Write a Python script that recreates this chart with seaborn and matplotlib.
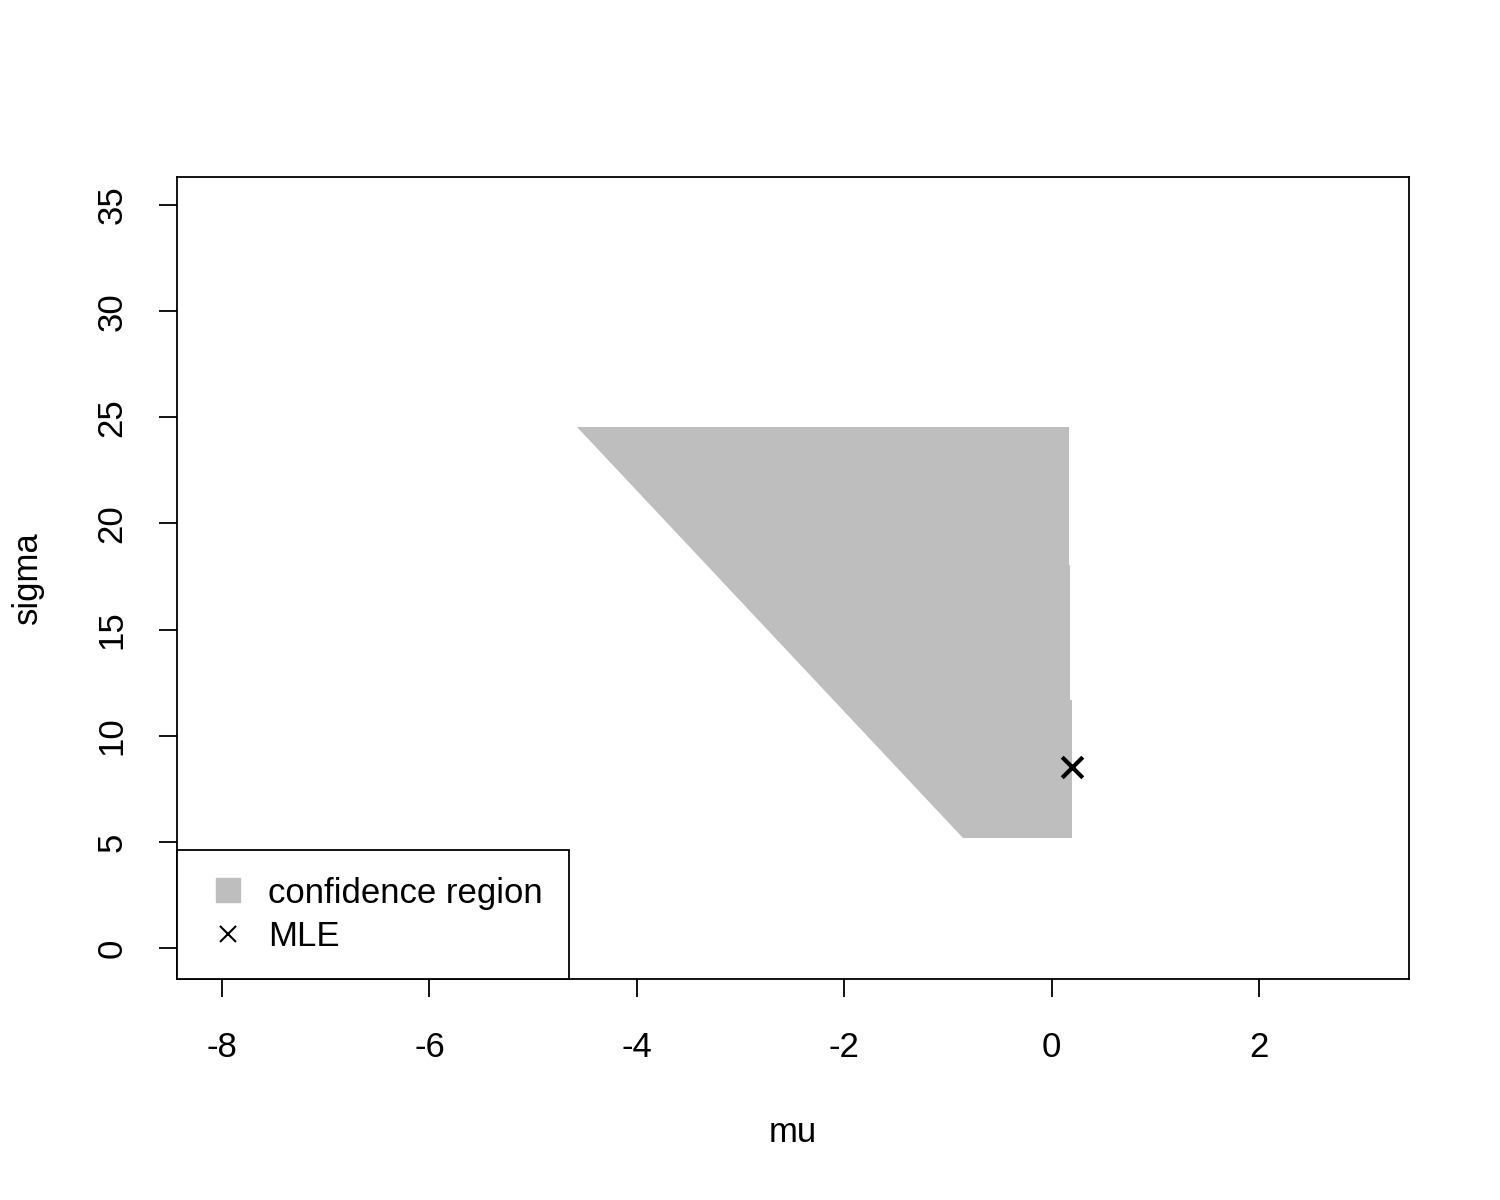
import matplotlib
matplotlib.use('Agg')
import matplotlib.pyplot as plt
from matplotlib.lines import Line2D
import seaborn as sns
import pandas as pd

# confidence region outline (mu, sigma)
region_mu = [-4.58, 0.164, 0.164, 0.180, 0.180, 0.193, 0.193, -0.855]
region_sigma = [24.56, 24.56, 18.04, 18.04, 11.68, 11.68, 5.2, 5.2]

# maximum likelihood estimate
mle_mu = [0.193]
mle_sigma = [8.53]

x_ticks = [-8, -6, -4, -2, 0, 2]
y_ticks = [0, 5, 10, 15, 20, 25, 30, 35]

sns.set_style("ticks")
plt.rcParams['font.family'] = ['Liberation Sans', 'DejaVu Sans']
plt.rcParams['text.color'] = 'black'
plt.rcParams['axes.labelcolor'] = 'black'
plt.rcParams['xtick.color'] = 'black'
plt.rcParams['ytick.color'] = 'black'

FS = 25

fig = plt.figure(figsize=(15, 12), dpi=100)
ax = fig.add_axes([0.118, 0.1842, 0.8213, 0.6683])

ax.fill(region_mu, region_sigma, color='#BEBEBE', lw=0)

mle = pd.DataFrame({'mu': mle_mu, 'sigma': mle_sigma})
sns.scatterplot(data=mle, x='mu', y='sigma', marker='x', s=220,
                color='black', linewidth=3, ax=ax, zorder=5)

ax.set_xlim(-8.434, 3.446)
ax.set_ylim(-1.46, 36.32)
ax.set_xticks(x_ticks)
ax.set_yticks(y_ticks)
ax.set_xticklabels([str(t) for t in x_ticks])
ax.set_yticklabels([str(t) for t in y_ticks], rotation=90, va='center')
ax.tick_params(axis='both', length=13, width=1.3, labelsize=FS)
ax.tick_params(axis='x', pad=24.5)
ax.tick_params(axis='y', pad=22)

for sp in ax.spines.values():
    sp.set_visible(True)
    sp.set_color('black')
    sp.set_linewidth(1.3)

ax.set_xlabel('mu', fontsize=FS)
ax.set_ylabel('sigma', fontsize=FS)
ax.xaxis.set_label_coords(0.5, -0.192)
ax.xaxis.label.set_va('center')
ax.yaxis.set_label_coords(-0.121, 0.5)
ax.yaxis.label.set_va('center')

handles = [
    Line2D([], [], marker='s', color='#BEBEBE', ls='none', markersize=17),
    Line2D([], [], marker='x', color='black', ls='none', markersize=12,
           markeredgewidth=1.5),
]
leg = ax.legend(handles, ['confidence region', 'MLE'], loc='lower left',
                borderaxespad=0, fancybox=False, framealpha=1,
                edgecolor='black', fontsize=FS, handletextpad=0.43,
                borderpad=0.75, labelspacing=0.3, handlelength=1.44)
leg.get_frame().set_linewidth(1.3)

fig.savefig('out.png', dpi=100, facecolor='white')
